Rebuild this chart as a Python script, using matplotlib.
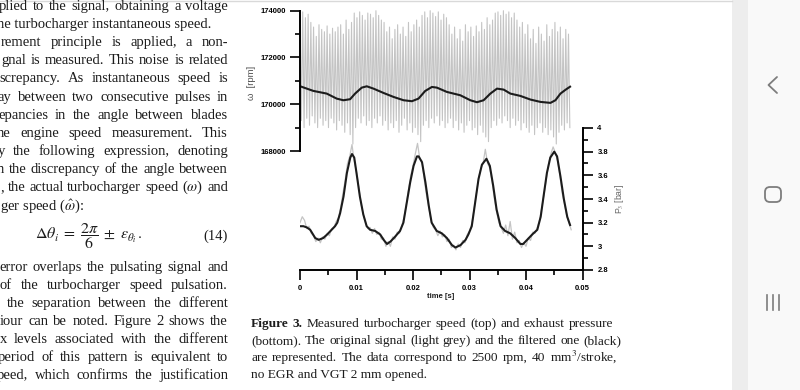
import matplotlib
matplotlib.use("Agg")
import matplotlib.pyplot as plt
import numpy as np
from matplotlib.patches import Rectangle, FancyBboxPatch
from matplotlib.ticker import MultipleLocator

plt.rcParams['mathtext.fontset'] = 'stix'

# ---- data ----
# turbocharger speed, raw signal: one high and one low sample per blade pulse
dt_pulse = 0.00048
w_high = [173900, 173950, 173700, 173850, 173500,
          173300, 172900, 173400, 173200, 173100, 173350, 173000, 173250, 173100, 173300,
          173400, 173000, 173600, 173200, 173500,
          173900, 173700, 173950, 173800, 173600, 173900, 173850, 173700, 174000, 173800, 173600,
          173500, 173100, 173300, 172800, 173200, 173400, 173000, 173300, 172900, 173500, 173100, 173400, 173600, 173300,
          173800, 173950, 173700, 174000, 173900, 173750, 173950, 173600, 173850, 173700,
          173400, 173000, 173300, 172800, 173200, 172700, 173400, 173100, 173300, 172900, 173350, 173100, 173500, 173200, 173700, 173400, 173600,
          173900, 173950, 173800, 174000, 173850, 173950, 173700, 173900, 173600,
          173300, 173500, 173000, 173400, 172800, 173200, 172600, 173300, 173000, 172700, 173400, 172900, 173200, 173500, 173100, 173300, 172800, 173200, 173000]
w_low = [169300, 169000, 169400, 169100, 169500, 169200, 169000, 169400, 169100, 169300,
         169000, 169400, 169200, 168900, 169300, 169100, 168800, 169200, 168700, 168300,
         169000, 169400, 169200, 169500, 169100, 169300, 169000, 169400, 169200, 169500,
         169100, 169300, 168900, 169200, 169000, 169300, 168800, 169100, 169400, 168900,
         169200, 168800, 169000, 168700, 168400, 169100, 169300, 169000, 169400, 169200,
         169500, 169100, 169300, 169000, 169200, 169400, 169000, 169300, 168900, 169200,
         168800, 169100, 169300, 168900, 169000, 168700, 169100, 168800, 168600, 168400,
         169000, 169300, 169100, 169400, 169200, 169500, 169300, 169000, 169400, 169100,
         169300, 168900, 169200, 169000, 168800, 169100, 168700, 169000, 169200, 168800,
         169000, 168700, 168900, 168600, 168300, 168800, 169100, 168900, 169200, 169000]

# turbocharger speed, filtered
t_wf = [0, 0.00236, 0.00473, 0.0065, 0.00768, 0.00887, 0.00975, 0.01093, 0.01182, 0.0130,
        0.01478, 0.01655, 0.01832, 0.0198, 0.02098, 0.02216, 0.02335, 0.02423, 0.026, 0.02837,
        0.03014, 0.03132, 0.0325, 0.03369, 0.03487, 0.03605, 0.03723, 0.039, 0.04078, 0.04255,
        0.04433, 0.04521, 0.0461, 0.0470, 0.0478]
w_filt = [170770, 170570, 170455, 170240, 170170, 170215, 170455, 170710, 170767, 170668,
          170483, 170313, 170171, 170129, 170242, 170568, 170739, 170710, 170526, 170384,
          170171, 170086, 170171, 170455, 170668, 170625, 170455, 170356, 170200, 170100,
          170058, 170171, 170455, 170620, 170750]

# exhaust pressure, raw signal (sampled every 0.4 ms)
dt_p = 0.0004
p_raw = [3.20, 3.25, 3.22, 3.15, 3.17, 3.11, 3.09, 3.04, 3.07, 3.03,
         3.08, 3.06, 3.11, 3.09, 3.15, 3.16, 3.21, 3.24, 3.33, 3.45,
         3.56, 3.70, 3.76, 3.86, 3.72, 3.63, 3.50, 3.36, 3.27, 3.20,
         3.15, 3.16, 3.11, 3.15, 3.10, 3.12, 3.06, 3.07, 3.00, 3.04,
         3.00, 3.08, 3.06, 3.12, 3.11, 3.17, 3.24, 3.35, 3.48, 3.60,
         3.68, 3.78, 3.87, 3.74, 3.72, 3.56, 3.43, 3.33, 3.22, 3.16,
         3.14, 3.09, 3.13, 3.08, 3.10, 3.04, 3.06, 2.99, 3.01, 2.97,
         3.02, 2.99, 3.05, 3.03, 3.10, 3.13, 3.19, 3.31, 3.44, 3.57,
         3.66, 3.70, 3.82, 3.70, 3.66, 3.55, 3.40, 3.29, 3.20, 3.16,
         3.11, 3.18, 3.09, 3.21, 3.06, 3.12, 3.03, 3.05, 2.99, 3.03,
         3.00, 3.07, 3.05, 3.12, 3.11, 3.16, 3.22, 3.33, 3.44, 3.57,
         3.70, 3.78, 3.84, 3.79, 3.72, 3.60, 3.45, 3.36, 3.26, 3.20,
         3.14]

# exhaust pressure, filtered
t_pf = [0, 0.0006, 0.0012, 0.0018, 0.0027, 0.0033, 0.0041, 0.0048, 0.0056, 0.0062,
        0.0066, 0.0071, 0.0077, 0.0083, 0.0089, 0.0092, 0.0096, 0.0100, 0.0106, 0.0112,
        0.0118, 0.0124, 0.0133, 0.0142, 0.0148, 0.0154, 0.0160, 0.0168, 0.0177, 0.0183,
        0.0189, 0.0195, 0.0201, 0.0207, 0.0210, 0.0216, 0.0222, 0.0228, 0.0233, 0.0242,
        0.0251, 0.0260, 0.0269, 0.0275, 0.0284, 0.0293, 0.0298, 0.0304, 0.0310, 0.0316,
        0.0322, 0.0330, 0.0336, 0.0342, 0.0348, 0.0355, 0.0363, 0.0372, 0.0381, 0.0390,
        0.0395, 0.0402, 0.0411, 0.0420, 0.0426, 0.0431, 0.0437, 0.0443, 0.0450, 0.0455,
        0.0461, 0.0467, 0.0473, 0.0478]
p_filt = [3.17, 3.17, 3.16, 3.14, 3.07, 3.055, 3.07, 3.10, 3.14, 3.17,
          3.20, 3.28, 3.42, 3.62, 3.75, 3.78, 3.75, 3.62, 3.42, 3.27,
          3.17, 3.14, 3.13, 3.10, 3.055, 3.02, 3.04, 3.08, 3.13, 3.20,
          3.37, 3.54, 3.68, 3.76, 3.76, 3.71, 3.54, 3.34, 3.20, 3.13,
          3.11, 3.07, 3.01, 2.99, 3.01, 3.055, 3.10, 3.17, 3.37, 3.57,
          3.69, 3.74, 3.68, 3.51, 3.31, 3.17, 3.13, 3.11, 3.07, 3.02,
          3.02, 3.055, 3.10, 3.14, 3.25, 3.42, 3.62, 3.75, 3.80, 3.76,
          3.59, 3.40, 3.25, 3.18]

time_ticks = [0, 0.01, 0.02, 0.03, 0.04, 0.05]
time_labels = ['0', '0.01', '0.02', '0.03', '0.04', '0.05']
w_ticks = [168000, 170000, 172000, 174000]
p_ticks = [2.8, 3.0, 3.2, 3.4, 3.6, 3.8, 4.0]
p_labels = ['2.8', '3', '3.2', '3.4', '3.6', '3.8', '4']

body_lines = [
    (6, "plied to the signal, obtaining a voltage", -1, 228),
    (24, "he turbocharger instantaneous speed.", -3, None),
    (42, "rement principle is applied, a non-", 1, 228),
    (60, "gnal is measured. This noise is related", 1, 228),
    (78, "screpancy.  As instantaneous speed is", -1, 228),
    (97, "ay between two consecutive pulses in", -2, 228),
    (115, "epancies in the angle between blades", -2, 228),
    (133, "he engine speed measurement.  This", -3, 228),
    (151, "y the following expression, denoting", -2, 228),
    (169, "n the discrepancy of the angle between", -3, 228),
    (187, ", the actual turbocharger speed ($\\omega$) and", 0, 228),
    (206, "ger speed ($\\hat{\\omega}$):", 0, None),
    (267, "error overlaps the pulsating signal and", -1, 228),
    (285, "of the turbocharger speed pulsation.", 0, 228),
    (303, "the separation between the different", 7, 228),
    (321, "iour can be noted. Figure 2 shows the", 0, 228),
    (339, "x levels associated with the different", 0, 228),
    (357, "period of this pattern is equivalent to", -2, 228),
    (375, "peed, which confirms the justification", -3, 228),
]
caption_lines = [
    (323, "Figure 3. Measured turbocharger speed (top) and exhaust pressure", 2, 613),
    (340, "(bottom). The original signal (light grey) and the filtered one (black)", 0, 621),
    (357, "are represented. The data correspond to 2500 rpm, 40 mm$^3$/stroke,", 0, 617),
    (374, "no EGR and VGT 2 mm opened.", 0, None),
]

# ---- figure ----
W, H = 800, 390
fig = plt.figure(figsize=(8, 3.9), dpi=100)
bg = fig.add_axes([0, 0, 1, 1], zorder=0)
bg.set_xlim(0, W)
bg.set_ylim(H, 0)
bg.axis('off')


def frame(x0, x1, ytop, ybot):
    return [x0 / W, 1 - ybot / H, (x1 - x0) / W, (ybot - ytop) / H]


grey = '#c4c4c4'
ink = '#1c1c1c'
tick_font = dict(family='Liberation Sans', fontweight='bold', fontsize=5.5)

# exhaust pressure (bottom, right axis)
ax_p = fig.add_axes(frame(300, 582.5, 128, 270), zorder=2)
ax_p.patch.set_alpha(0)
ax_p.plot(np.arange(len(p_raw)) * dt_p, p_raw, color=grey, lw=0.9)
ax_p.plot(t_pf, p_filt, color=ink, lw=1.5)
ax_p.set_xlim(0, 0.05)
ax_p.set_ylim(2.8, 4.0)
for s in ['top', 'left']:
    ax_p.spines[s].set_visible(False)
for s in ['bottom', 'right']:
    ax_p.spines[s].set_linewidth(1.4)
ax_p.yaxis.tick_right()
ax_p.set_xticks(time_ticks)
ax_p.set_xticklabels(time_labels, **tick_font)
ax_p.xaxis.set_minor_locator(MultipleLocator(0.005))
ax_p.set_yticks(p_ticks)
ax_p.set_yticklabels(p_labels, **tick_font)
ax_p.yaxis.set_minor_locator(MultipleLocator(0.1))
ax_p.tick_params(which='major', direction='out', length=7.2, width=1.2, pad=3.5)
ax_p.tick_params(which='minor', direction='out', length=3.6, width=1.2)

# turbocharger speed (top, left axis)
t_hi = np.arange(len(w_high)) * dt_pulse
t_raw = np.column_stack([t_hi, t_hi + dt_pulse / 2]).ravel()
w_raw = np.column_stack([w_high, w_low]).ravel()
ax_w = fig.add_axes(frame(300, 582.5, 10.7, 151), zorder=3)
ax_w.patch.set_alpha(0)
ax_w.plot(t_raw, w_raw, color=grey, lw=0.8, clip_on=False)
ax_w.plot(t_wf, w_filt, color=ink, lw=1.5)
ax_w.set_xlim(0, 0.05)
ax_w.set_ylim(168000, 174000)
for s in ['top', 'right', 'bottom']:
    ax_w.spines[s].set_visible(False)
ax_w.spines['left'].set_linewidth(1.4)
ax_w.tick_params(axis='x', which='both', bottom=False, labelbottom=False)
ax_w.set_yticks(w_ticks)
ax_w.set_yticklabels([str(v) for v in w_ticks], **tick_font)
ax_w.yaxis.set_minor_locator(MultipleLocator(1000))
ax_w.tick_params(axis='y', which='major', direction='out', length=7.2, width=1.2, pad=3)
ax_w.tick_params(axis='y', which='minor', direction='out', length=3.6, width=1.2)

bg.text(252, 83, '\u03c9  [rpm]', rotation=90, ha='center', va='center',
        fontsize=6.8, family='Liberation Sans', color='#505050')
bg.text(441, 297, 'time [s]', ha='center', va='center', **tick_font, color=ink)
bg.text(619, 199, 'P$_3$ [bar]', rotation=90, ha='center', va='center',
        fontsize=6.2, family='Liberation Sans', color='#666666')

# ---- page text ----
renderer = fig.canvas.get_renderer()


def put_line(y, text, x0, x1, size, bold_words=0):
    if x1 is None:
        bg.text(x0, y + 4, text, fontsize=size, family='Liberation Serif',
                va='baseline', ha='left', color=ink)
        return
    words = text.split()
    objs = []
    for k, w in enumerate(words):
        objs.append(bg.text(x0, y + 4, w, fontsize=size, family='Liberation Serif',
                            fontweight='bold' if k < bold_words else 'normal',
                            va='baseline', ha='left', color=ink))
    widths = [o.get_window_extent(renderer).width for o in objs]
    gap = (x1 - x0 - sum(widths)) / (len(words) - 1)
    if gap < 2.6:
        # too long for the measure: keep a minimum space, end at x1
        gap = 2.6
        x0 = x1 - sum(widths) - gap * (len(words) - 1)
    x = x0
    for o, wd in zip(objs, widths):
        o.set_x(x)
        x += wd + gap


for y, text, x0, x1 in body_lines:
    put_line(y, text, x0, x1, 10.5)

bg.text(35, 236, r'$\Delta\theta_i\;=\;\dfrac{2\pi}{6}\;\pm\;\varepsilon_{\theta_i}\,.$',
        fontsize=11.5, ha='left', va='center', color=ink)
bg.text(228, 240, '(14)', fontsize=10.5, family='Liberation Serif', ha='right',
        va='baseline', color=ink)

for y, text, bold, x1 in caption_lines:
    put_line(y, text, 251, x1, 9.6, bold_words=bold)

# ---- phone chrome ----
bg.plot([0, 732], [0.6, 0.6], color='#d9d9d9', lw=1)
bg.add_patch(Rectangle((732, 0), 16, H, color='#ededed', lw=0))
bg.add_patch(Rectangle((748, 0), 52, H, color='#f9f9f9', lw=0))
nav = '#7d7d7d'
bg.plot([777, 768.5, 777], [77, 85, 93], color=nav, lw=1.3, solid_capstyle='round')
bg.add_patch(FancyBboxPatch((765, 187), 16, 15, boxstyle='round,pad=0,rounding_size=5',
                            fill=False, ec=nav, lw=1.3))
for xx in [767, 773, 779]:
    bg.plot([xx, xx], [295, 310], color=nav, lw=1.2)

fig.savefig('out.png', dpi=100)
